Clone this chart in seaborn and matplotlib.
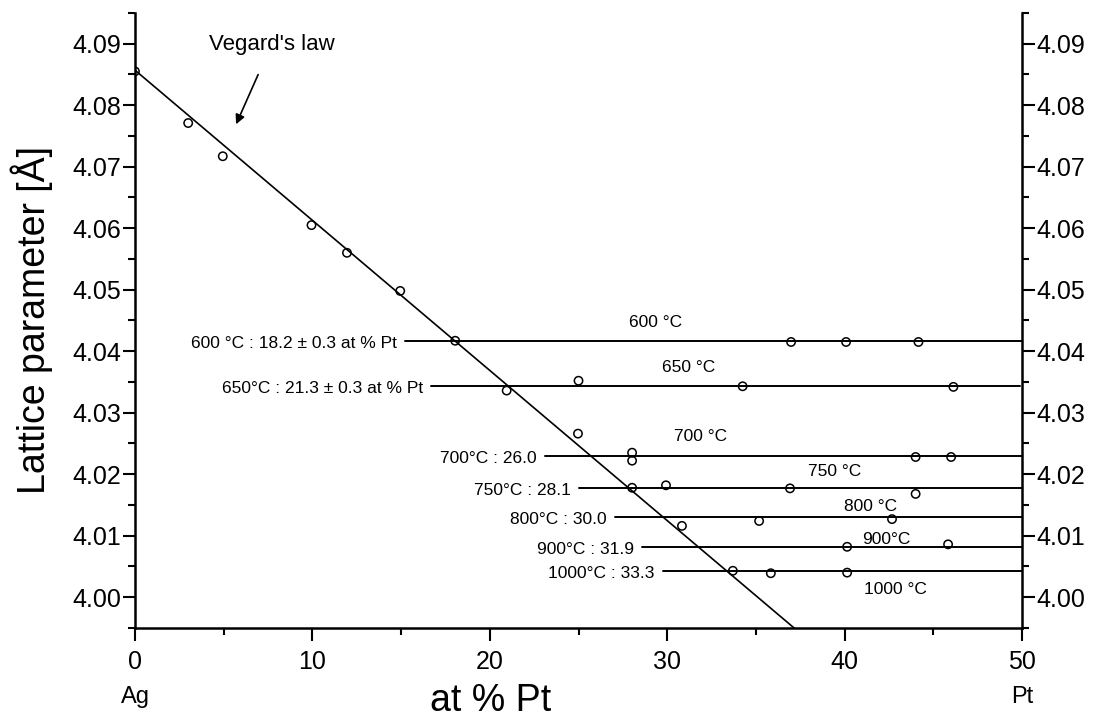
import matplotlib
matplotlib.use("Agg")
import matplotlib.pyplot as plt
import seaborn as sns
import pandas as pd
import numpy as np
from matplotlib.ticker import MultipleLocator, FormatStrFormatter

# ---------------- data ----------------
# Vegard's law line (end points)
vegard_x = [0.0, 37.15]
vegard_y = [4.0857, 3.995]

# single-phase points along Vegard's law
single_x = [0.0, 3.0, 4.95, 9.95, 11.95, 14.95, 18.05]
single_y = [4.0855, 4.0771, 4.0717, 4.0605, 4.0560, 4.0498, 4.0417]

# two-phase points per temperature
pts_600_x = [36.98, 40.08, 44.16]
pts_600_y = [4.0415, 4.0415, 4.0415]
pts_650_x = [20.95, 25.0, 34.25, 46.13]
pts_650_y = [4.0336, 4.0352, 4.0343, 4.0342]
pts_700_x = [24.97, 28.02, 28.02, 44.0, 46.0]
pts_700_y = [4.0266, 4.0235, 4.0222, 4.0228, 4.0228]
pts_750_x = [28.02, 29.93, 36.92, 44.0]
pts_750_y = [4.0178, 4.0182, 4.0177, 4.0168]
pts_800_x = [30.83, 35.18, 42.67]
pts_800_y = [4.0116, 4.0124, 4.0127]
pts_900_x = [40.14, 45.83]
pts_900_y = [4.0082, 4.0086]
pts_1000_x = [33.7, 35.84, 40.14]
pts_1000_y = [4.0043, 4.0039, 4.0040]

# solubility limit lines
limit_y = [4.0417, 4.0343, 4.0230, 4.0178, 4.0131, 4.0082, 4.0042]
limit_x_start = [15.2, 16.7, 23.1, 25.0, 27.05, 28.6, 29.75]
limit_x_end = [50.0, 49.9, 50.0, 50.0, 50.0, 50.0, 50.0]
limit_labels = ["600 °C : 18.2 ± 0.3 at % Pt", "650°C : 21.3 ± 0.3 at % Pt",
                "700°C : 26.0", "750°C : 28.1", "800°C : 30.0",
                "900°C : 31.9", "1000°C : 33.3"]

# temperature tags
temp_labels = ["600 °C", "650 °C", "700 °C", "750 °C", "800 °C", "900°C", "1000 °C"]
temp_x = [29.35, 31.2, 31.9, 39.45, 41.45, 42.35, 42.85]
temp_y = [4.0447, 4.0373, 4.0261, 4.0204, 4.0147, 4.0094, 4.0013]

# ---------------- style ----------------
sns.set_theme(style="ticks")
plt.rcParams["font.family"] = ["Liberation Sans", "DejaVu Sans"]
plt.rcParams["text.color"] = "black"
plt.rcParams["axes.labelcolor"] = "black"
plt.rcParams["xtick.color"] = "black"
plt.rcParams["ytick.color"] = "black"

fig = plt.figure(figsize=(10.99, 7.19), dpi=100)
ax = fig.add_axes([0.1228, 0.1266, 0.8072, 0.8554])

# Vegard line
sns.lineplot(x=vegard_x, y=vegard_y, ax=ax, color="black", lw=1.2,
             estimator=None, sort=False)

# limit lines
for ys, x0, x1 in zip(limit_y, limit_x_start, limit_x_end):
    sns.lineplot(x=[x0, x1], y=[ys, ys], ax=ax, color="black", lw=1.4,
                 estimator=None, sort=False)

# points
all_x = single_x + pts_600_x + pts_650_x + pts_700_x + pts_750_x + pts_800_x + pts_900_x + pts_1000_x
all_y = single_y + pts_600_y + pts_650_y + pts_700_y + pts_750_y + pts_800_y + pts_900_y + pts_1000_y
df = pd.DataFrame({"x": all_x, "y": all_y})
sns.scatterplot(data=df, x="x", y="y", ax=ax, marker="o", s=36,
                facecolor="none", edgecolor="black", linewidth=1.1, zorder=5)

# labels at the left of the limit lines
for lab, ys, x0 in zip(limit_labels, limit_y, limit_x_start):
    ax.text(x0 - 0.45, ys - 0.0004, lab, ha="right", va="center", fontsize=12.5,
            color="black")

for lab, xs, ys in zip(temp_labels, temp_x, temp_y):
    ax.text(xs, ys, lab, ha="center", va="center", fontsize=12.5, color="black")

# Vegard's law annotation
ax.annotate("Vegard's law", xy=(5.7, 4.0769), xytext=(7.7, 4.0899),
            ha="center", va="center", fontsize=16, color="black",
            arrowprops=dict(arrowstyle="-|>", color="black", lw=1.2,
                            mutation_scale=14, shrinkA=13, shrinkB=0))

# axes
ax.set_xlim(0, 50)
ax.set_ylim(3.995, 4.095)
ax.xaxis.set_major_locator(MultipleLocator(10))
ax.xaxis.set_minor_locator(MultipleLocator(5))
ax.yaxis.set_major_locator(MultipleLocator(0.01))
ax.yaxis.set_minor_locator(MultipleLocator(0.005))
ax.yaxis.set_major_formatter(FormatStrFormatter("%.2f"))

ax.spines["top"].set_visible(False)
for s in ["left", "right", "bottom"]:
    ax.spines[s].set_visible(True)
    ax.spines[s].set_linewidth(1.8)
    ax.spines[s].set_color("black")

ax.tick_params(axis="both", which="major", direction="out", length=9, width=1.5,
               labelsize=18, colors="black")
ax.tick_params(axis="both", which="minor", direction="out", length=5, width=1.5)
ax.tick_params(axis="y", which="both", left=True, right=True, labelleft=True,
               labelright=True, pad=1)
ax.tick_params(axis="x", which="major", pad=7)

ax.set_xlabel("at % Pt", fontsize=27)
ax.xaxis.set_label_coords(0.401, -0.118)
ax.xaxis.label.set_verticalalignment("center")
ax.set_ylabel("Lattice parameter [Å]", fontsize=27)
ax.yaxis.set_label_coords(-0.116, 0.5)
ax.yaxis.label.set_verticalalignment("center")

ax.text(0.0, -0.112, "Ag", transform=ax.transAxes, ha="center", va="center",
        fontsize=17, color="black")
ax.text(1.0, -0.112, "Pt", transform=ax.transAxes, ha="center", va="center",
        fontsize=17, color="black")

ax.grid(False)
fig.savefig("out.png", dpi=100)
